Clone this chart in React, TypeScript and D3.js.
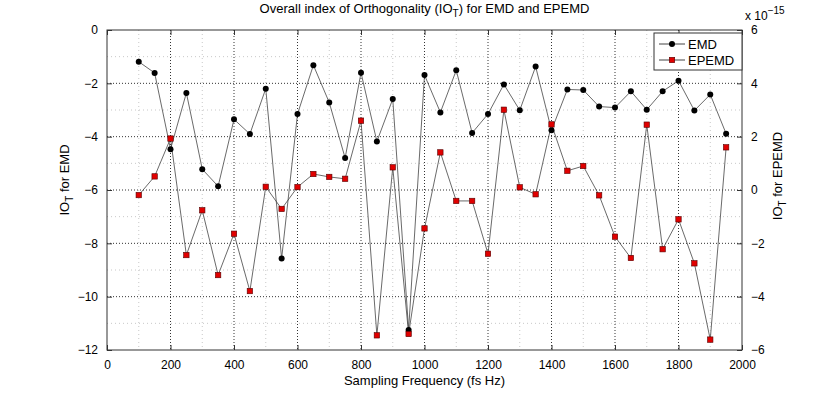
import React, { useEffect, useRef } from "react";
import * as d3 from "d3";

const W = 822;
const H = 393;
const MARGIN = { TOP: 30, BOTTOM: 43, LEFT: 107, RIGHT: 80 };
const WIDTH = W - MARGIN.LEFT - MARGIN.RIGHT;
const HEIGHT = H - MARGIN.TOP - MARGIN.BOTTOM;

const freqs = [
  100, 150, 200, 250, 300, 350, 400, 450, 500, 550, 600, 650, 700, 750, 800, 850, 900, 950, 1000,
  1050, 1100, 1150, 1200, 1250, 1300, 1350, 1400, 1450, 1500, 1550, 1600, 1650, 1700, 1750, 1800,
  1850, 1900, 1950,
];
const emd = [
  -1.19, -1.61, -4.47, -2.36, -5.22, -5.86, -3.35, -3.9, -2.2, -8.57, -3.15, -1.32, -2.72, -4.8,
  -1.6, -4.18, -2.59, -11.25, -1.69, -3.09, -1.51, -3.86, -3.15, -2.04, -3.01, -1.37, -3.76, -2.23,
  -2.25, -2.87, -2.91, -2.3, -2.99, -2.3, -1.9, -3.02, -2.42, -3.89,
];
// EPEMD in units of 1e-15
const epemd = [
  -0.19, 0.51, 1.93, -2.44, -0.76, -3.19, -1.64, -3.79, 0.12, -0.71, 0.11, 0.6, 0.49, 0.42, 2.6,
  -5.45, 0.85, -5.4, -1.44, 1.41, -0.41, -0.41, -2.39, 3.01, 0.1, -0.16, 2.46, 0.72, 0.9, -0.2,
  -1.75, -2.55, 2.45, -2.22, -1.1, -2.75, -5.61, 1.6,
];
const xTicks = [0, 200, 400, 600, 800, 1000, 1200, 1400, 1600, 1800, 2000];
const xMinor = [100, 300, 500, 700, 900, 1100, 1300, 1500, 1700, 1900];
const yLeftTicks = [0, -2, -4, -6, -8, -10, -12];
const yLeftMinor = [-1, -3, -5, -7, -9, -11];
const yRightTicks = [6, 4, 2, 0, -2, -4, -6];

const FONT = "'Liberation Sans', Arial, Helvetica, sans-serif";

const App = () => {
  const ref = useRef<SVGSVGElement>(null);

  useEffect(() => {
    const svgRoot = d3.select(ref.current);
    svgRoot.selectAll("*").remove();

    const x = d3.scaleLinear().domain([0, 2000]).range([0, WIDTH]);
    const yL = d3.scaleLinear().domain([-12, 0]).range([HEIGHT, 0]);
    const yR = d3.scaleLinear().domain([-6, 6]).range([HEIGHT, 0]);

    svgRoot.append("rect").attr("width", W).attr("height", H).attr("fill", "#fff");

    const svg = svgRoot
      .append("g")
      .attr("transform", `translate(${MARGIN.LEFT},${MARGIN.TOP})`)
      .style("font-family", FONT);

    // grid
    const grid = svg.append("g");
    grid
      .selectAll(".gxm")
      .data(xMinor)
      .enter()
      .append("line")
      .attr("x1", (d) => x(d))
      .attr("x2", (d) => x(d))
      .attr("y1", 0)
      .attr("y2", HEIGHT)
      .attr("stroke", "#c8c8c8")
      .attr("stroke-width", 1)
      .attr("stroke-dasharray", "1,3");
    grid
      .selectAll(".gym")
      .data(yLeftMinor)
      .enter()
      .append("line")
      .attr("x1", 0)
      .attr("x2", WIDTH)
      .attr("y1", (d) => yL(d))
      .attr("y2", (d) => yL(d))
      .attr("stroke", "#c8c8c8")
      .attr("stroke-width", 1)
      .attr("stroke-dasharray", "1,3");
    grid
      .selectAll(".gx")
      .data(xTicks.slice(1, -1))
      .enter()
      .append("line")
      .attr("x1", (d) => x(d))
      .attr("x2", (d) => x(d))
      .attr("y1", 0)
      .attr("y2", HEIGHT)
      .attr("stroke", "#333")
      .attr("stroke-width", 1)
      .attr("stroke-dasharray", "1,2");
    grid
      .selectAll(".gy")
      .data(yLeftTicks.slice(1, -1))
      .enter()
      .append("line")
      .attr("x1", 0)
      .attr("x2", WIDTH)
      .attr("y1", (d) => yL(d))
      .attr("y2", (d) => yL(d))
      .attr("stroke", "#333")
      .attr("stroke-width", 1)
      .attr("stroke-dasharray", "1,2");

    // axes (ticks inside, MATLAB style)
    const tickStyle = (g: any) => {
      g.select(".domain").remove();
      g.selectAll("line").attr("stroke", "#333");
      g.selectAll("text").attr("fill", "#000").style("font-family", FONT).style("font-size", "12px");
    };
    svg
      .append("g")
      .attr("transform", `translate(0,${HEIGHT})`)
      .call(d3.axisBottom(x).tickValues(xTicks).tickFormat(d3.format("d")).tickSizeInner(-5).tickPadding(10))
      .call(tickStyle);
    svg
      .append("g")
      .call(d3.axisTop(x).tickValues(xTicks).tickSizeInner(-5).tickFormat(() => ""))
      .call(tickStyle);
    svg
      .append("g")
      .call(
        d3
          .axisLeft(yL)
          .tickValues(yLeftTicks)
          .tickFormat((d: any) => d3.format("d")(d).replace("-", "\u2212"))
          .tickSizeInner(-5)
          .tickPadding(9)
      )
      .call(tickStyle);
    svg
      .append("g")
      .attr("transform", `translate(${WIDTH},0)`)
      .call(
        d3
          .axisRight(yR)
          .tickValues(yRightTicks)
          .tickFormat((d: any) => d3.format("d")(d).replace("-", "\u2212"))
          .tickSizeInner(-5)
          .tickPadding(9)
      )
      .call(tickStyle);

    // frame
    svg
      .append("rect")
      .attr("width", WIDTH)
      .attr("height", HEIGHT)
      .attr("fill", "none")
      .attr("stroke", "#333")
      .attr("stroke-width", 1);

    // lines
    const lineL = d3
      .line<number>()
      .x((_, i) => x(freqs[i]))
      .y((d) => yL(d));
    const lineR = d3
      .line<number>()
      .x((_, i) => x(freqs[i]))
      .y((d) => yR(d));

    svg.append("path").datum(emd).attr("d", lineL).attr("fill", "none").attr("stroke", "#444").attr("stroke-width", 0.8);
    svg.append("path").datum(epemd).attr("d", lineR).attr("fill", "none").attr("stroke", "#444").attr("stroke-width", 0.8);

    svg
      .selectAll(".pe")
      .data(emd)
      .enter()
      .append("circle")
      .attr("cx", (_, i) => x(freqs[i]))
      .attr("cy", (d) => yL(d))
      .attr("r", 3)
      .attr("fill", "#000");

    svg
      .selectAll(".pp")
      .data(epemd)
      .enter()
      .append("rect")
      .attr("x", (_, i) => x(freqs[i]) - 2.7)
      .attr("y", (d) => yR(d) - 2.7)
      .attr("width", 5.4)
      .attr("height", 5.4)
      .attr("fill", "#e00000")
      .attr("stroke", "#500")
      .attr("stroke-width", 0.6);

    // legend
    const lg = svg.append("g").attr("transform", `translate(${WIDTH - 88},3)`);
    lg.append("rect").attr("width", 88).attr("height", 37).attr("fill", "#fff").attr("stroke", "#333");
    const items = [
      { label: "EMD", y: 11 },
      { label: "EPEMD", y: 27 },
    ];
    items.forEach((it, k) => {
      lg.append("line").attr("x1", 5).attr("x2", 31).attr("y1", it.y).attr("y2", it.y).attr("stroke", "#444");
      if (k === 0) lg.append("circle").attr("cx", 18).attr("cy", it.y).attr("r", 3).attr("fill", "#000");
      else
        lg.append("rect")
          .attr("x", 15.3)
          .attr("y", it.y - 2.7)
          .attr("width", 5.4)
          .attr("height", 5.4)
          .attr("fill", "#e00000")
          .attr("stroke", "#500")
          .attr("stroke-width", 0.6);
      lg.append("text").attr("x", 34).attr("y", it.y + 4.5).style("font-size", "13px").text(it.label);
    });

    // title
    const title = svg
      .append("text")
      .attr("x", WIDTH / 2)
      .attr("y", -17)
      .attr("text-anchor", "middle")
      .style("font-size", "13px");
    title.append("tspan").text("Overall index of Orthogonality (IO");
    title.append("tspan").attr("dy", 4).style("font-size", "10px").text("T");
    title.append("tspan").attr("dy", -4).text(") for EMD and EPEMD");

    // x label
    svg
      .append("text")
      .attr("x", WIDTH / 2)
      .attr("y", HEIGHT + 35)
      .attr("text-anchor", "middle")
      .style("font-size", "13px")
      .text("Sampling Frequency (fs Hz)");

    // left y label
    const yl = svg
      .append("text")
      .attr("transform", `translate(-38,150) rotate(-90)`)
      .attr("text-anchor", "middle")
      .style("font-size", "13px");
    yl.append("tspan").text("IO");
    yl.append("tspan").attr("dy", 4).style("font-size", "10px").text("T");
    yl.append("tspan").attr("dy", -4).text(" for EMD");

    // right y label
    const yr = svg
      .append("text")
      .attr("transform", `translate(${WIDTH + 40},146) rotate(-90)`)
      .attr("text-anchor", "middle")
      .style("font-size", "13px");
    yr.append("tspan").text("IO");
    yr.append("tspan").attr("dy", 4).style("font-size", "10px").text("T");
    yr.append("tspan").attr("dy", -4).text(" for EPEMD");

    // exponent
    const ex = svg.append("text").attr("x", WIDTH + 3).attr("y", -10).style("font-size", "12px");
    ex.append("tspan").text("x 10");
    ex.append("tspan").attr("dy", -6).style("font-size", "10px").text("\u221215");
  }, []);

  return (
    <svg
      ref={ref}
      width={W}
      height={H}
      style={{ position: "absolute", left: 0, top: 0, display: "block" }}
    />
  );
};

export default App;
